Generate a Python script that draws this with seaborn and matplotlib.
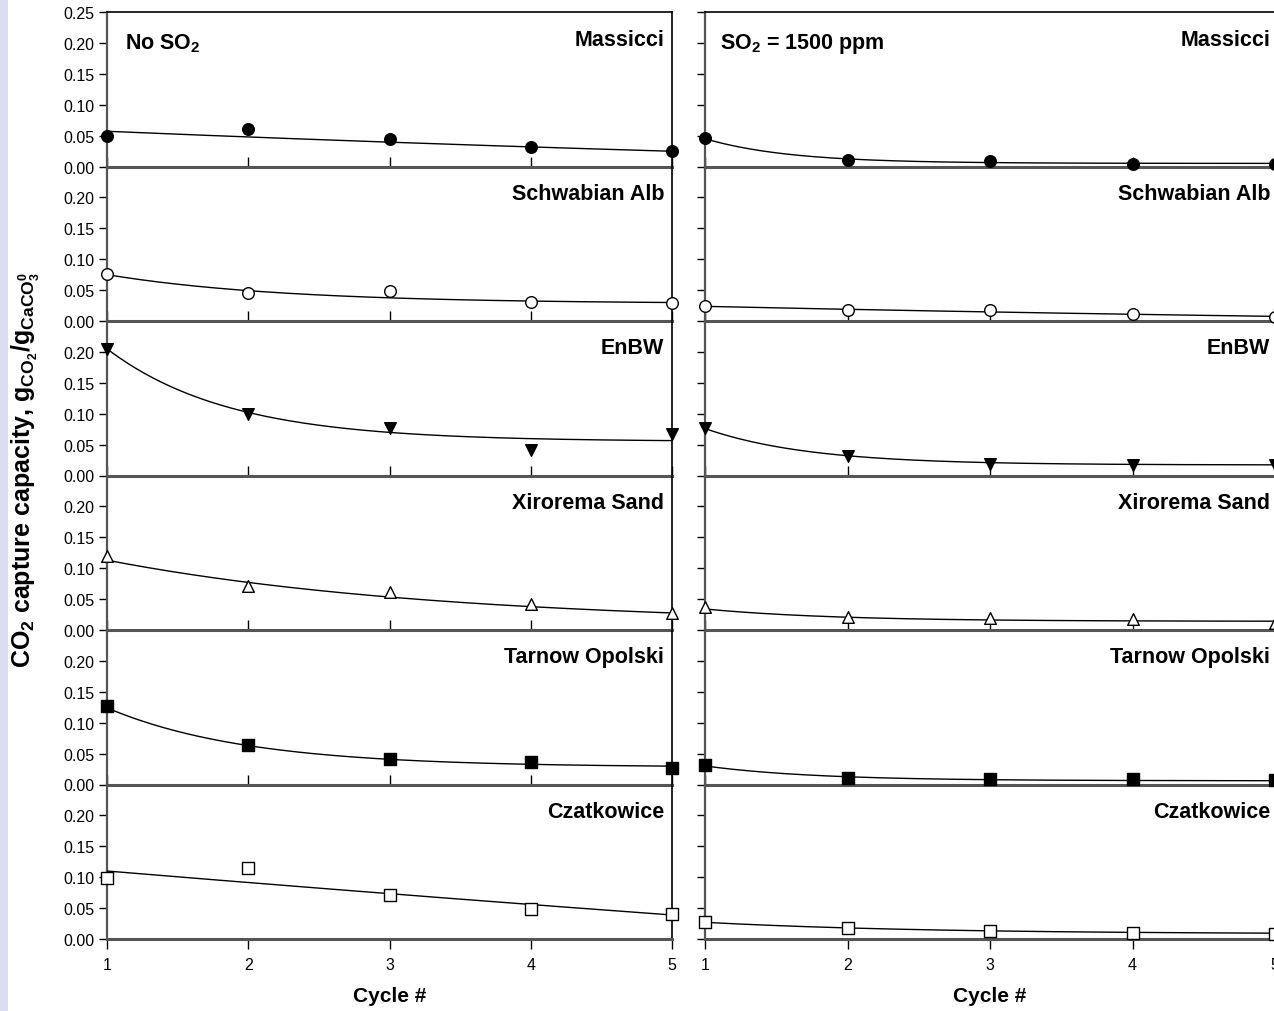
import numpy as np
import pandas as pd
import matplotlib
matplotlib.use("Agg")
import matplotlib.pyplot as plt
from matplotlib.patches import Rectangle
import seaborn as sns

# ---- data -------------------------------------------------------------
cycles = [1, 2, 3, 4, 5]
samples = ["Massicci", "Schwabian Alb", "EnBW", "Xirorema Sand",
           "Tarnow Opolski", "Czatkowice"]

# CO2 capture capacity per cycle, one list per limestone
capacity_no_so2 = [
    [0.050, 0.060, 0.044, 0.031, 0.025],
    [0.076, 0.045, 0.048, 0.031, 0.029],
    [0.205, 0.100, 0.077, 0.041, 0.067],
    [0.119, 0.071, 0.061, 0.042, 0.027],
    [0.127, 0.064, 0.042, 0.036, 0.027],
    [0.098, 0.115, 0.071, 0.049, 0.041],
]
capacity_so2 = [
    [0.046, 0.011, 0.009, 0.004, 0.004],
    [0.025, 0.017, 0.017, 0.012, 0.006],
    [0.077, 0.031, 0.018, 0.017, 0.017],
    [0.038, 0.021, 0.019, 0.018, 0.011],
    [0.031, 0.011, 0.009, 0.009, 0.008],
    [0.028, 0.018, 0.013, 0.010, 0.008],
]

# decay fit X(N) = y0 + a * exp(-b (N - 1)), parameters (y0, a, b)
fit_no_so2 = [
    (-0.050, 0.107, 0.09),
    (0.028, 0.047, 0.80),
    (0.055, 0.150, 1.16),
    (0.008, 0.105, 0.42),
    (0.028, 0.096, 1.01),
    (-0.500, 0.610, 0.031),
]
fit_so2 = [
    (0.005, 0.040, 1.70),
    (-0.020, 0.0437, 0.116),
    (0.017, 0.059, 1.37),
    (0.014, 0.020, 1.10),
    (0.006, 0.024, 1.30),
    (0.008, 0.019, 0.65),
]

panel_titles = [r"No SO$_{\mathbf{2}}$", r"SO$_{\mathbf{2}}$ = 1500 ppm"]
y_ticks = [0.00, 0.05, 0.10, 0.15, 0.20, 0.25]

marker_shapes = ["o", "o", "v", "^", "s", "s"]
marker_faces = ["black", "white", "black", "white", "black", "white"]

# ---- style ------------------------------------------------------------
sns.set_style("ticks")
plt.rcParams["font.family"] = ["Liberation Sans", "DejaVu Sans"]
plt.rcParams["mathtext.fontset"] = "custom"
plt.rcParams["mathtext.rm"] = "Liberation Sans:bold"
plt.rcParams["mathtext.bf"] = "Liberation Sans:bold"
plt.rcParams["mathtext.it"] = "Liberation Sans:bold"
for key in ["text.color", "axes.labelcolor", "xtick.color", "ytick.color",
            "xtick.labelcolor", "ytick.labelcolor"]:
    plt.rcParams[key] = "black"

W, H = 1274, 1012
fig = plt.figure(figsize=(W / 100, H / 100), dpi=100)
fig.patch.set_facecolor("white")
fig.patches.append(Rectangle((0, 0), 8 / W, 1, transform=fig.transFigure,
                             facecolor="#dcdcf2", edgecolor="none", zorder=0))

col_left = [107 / W, 705 / W]
col_right = [672 / W, 1275 / W]
row_top_px, row_bot_px = 13, 940
n_rows = len(samples)
row_h = (row_bot_px - row_top_px) / n_rows

x_fine = np.linspace(1, 5, 200)
grey = "#555555"

for c, (caps, fits) in enumerate([(capacity_no_so2, fit_no_so2),
                                  (capacity_so2, fit_so2)]):
    for r in range(n_rows):
        top = row_top_px + r * row_h
        ax = fig.add_axes([col_left[c], 1 - (top + row_h) / H,
                           col_right[c] - col_left[c], row_h / H])
        ax.set_facecolor("none")

        y0, a, b = fits[r]
        curve = pd.DataFrame({"cycle": x_fine,
                              "cap": y0 + a * np.exp(-b * (x_fine - 1))})
        sns.lineplot(data=curve, x="cycle", y="cap", ax=ax, color="black",
                     linewidth=1.0, zorder=3)

        pts = pd.DataFrame({"cycle": cycles, "cap": caps[r]})
        sns.scatterplot(data=pts, x="cycle", y="cap", ax=ax,
                        marker=marker_shapes[r], s=70,
                        color=marker_faces[r], edgecolor="black",
                        linewidth=1.0, zorder=4, clip_on=False)

        ax.set_xlim(1, 5)
        ax.set_ylim(0, 0.25)
        ax.set_xticks(cycles)
        ax.set_yticks(y_ticks if r == 0 else y_ticks[:-1])
        ax.set_xlabel("")
        ax.set_ylabel("")

        if c == 0:
            ax.set_yticklabels([f"{t:.2f}" for t in ax.get_yticks()])
        else:
            ax.set_yticklabels([])
        ax.tick_params(axis="y", direction="out", length=6, width=1.0,
                       color="black", labelsize=11.5, pad=3)

        last = r == n_rows - 1
        ax.tick_params(axis="x", direction="out" if last else "in",
                       length=7, width=1.0, color="black",
                       labelsize=11.5, pad=6, labelbottom=last)

        for side in ["left", "bottom"]:
            ax.spines[side].set_color(grey)
        ax.spines["left"].set_linewidth(1.6)
        ax.spines["bottom"].set_linewidth(2.2)
        ax.spines["top"].set_visible(r == 0)
        ax.spines["top"].set_color("black")
        ax.spines["top"].set_linewidth(1.2)
        ax.spines["right"].set_visible(c == 0)
        ax.spines["right"].set_color("black")
        ax.spines["right"].set_linewidth(1.2)

        rx = -8 if c == 0 else -5
        ax.annotate(samples[r], xy=(1, 1), xycoords="axes fraction",
                    xytext=(rx, -27), textcoords="offset pixels",
                    ha="right", va="center", fontsize=15.5,
                    fontweight="bold")

        if r == 0:
            ax.annotate(panel_titles[c], xy=(0, 1), xycoords="axes fraction",
                        xytext=(18 if c == 0 else 15, -31),
                        textcoords="offset pixels", ha="left", va="center",
                        fontsize=15.5, fontweight="bold")
        if last:
            ax.set_xlabel("Cycle #", fontsize=15, fontweight="bold",
                          labelpad=10)

fig.text(26 / W, 1 - 470 / H,
         r"CO$_{\mathbf{2}}$ capture capacity, g$_{\mathbf{CO_2}}$/g$_{\mathbf{CaCO_3^0}}$",
         rotation=90, ha="center", va="center", fontsize=18,
         fontweight="bold")

fig.savefig("out.png", dpi=100)
